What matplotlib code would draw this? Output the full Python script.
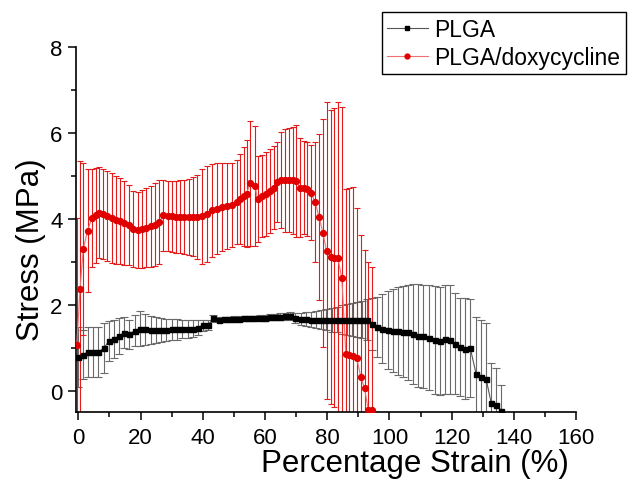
import numpy as np
import matplotlib
matplotlib.use('Agg')
import matplotlib.pyplot as plt
from matplotlib.lines import Line2D
from matplotlib.ticker import MultipleLocator

plt.rcParams['font.family'] = ['Liberation Sans', 'DejaVu Sans']

# PLGA (black squares)
plga_strain = [0.0, 1.4, 3.0, 4.7, 6.4, 8.2, 9.8, 11.5, 13.1, 14.7, 16.4, 18.1, 19.8,
               21.5, 23.2, 24.9, 26.6, 28.3, 30.0, 31.7, 33.4, 35.1, 36.8, 38.4, 40.1,
               41.8, 43.4, 45.1, 46.7, 48.4, 50.0, 51.7, 53.3, 55.0, 56.6, 58.3, 59.9,
               61.6, 63.2, 64.9, 66.5, 68.2, 69.8, 71.5, 73.1, 74.8, 76.4, 78.1, 79.7,
               81.4, 83.0, 84.7, 86.3, 88.0, 89.6, 91.3, 92.9, 94.3, 95.9, 97.5, 99.4,
               101.1, 102.8, 104.5, 106.1, 107.7, 109.3, 110.9, 112.8, 114.5, 116.2,
               117.9, 119.5, 121.1, 122.7, 124.4, 126.0, 127.9, 129.5, 131.1, 132.7,
               134.4, 136.0]
plga_stress = [0.78, 0.84, 0.90, 0.90, 0.91, 0.99, 1.16, 1.21, 1.28, 1.35, 1.32, 1.40, 1.45,
               1.43, 1.41, 1.42, 1.42, 1.42, 1.43, 1.43, 1.44, 1.44, 1.45, 1.47, 1.53,
               1.53, 1.69, 1.66, 1.67, 1.67, 1.68, 1.68, 1.69, 1.69, 1.69, 1.70, 1.70,
               1.71, 1.72, 1.73, 1.74, 1.74, 1.69, 1.68, 1.67, 1.66, 1.66, 1.66, 1.66,
               1.66, 1.66, 1.66, 1.66, 1.66, 1.66, 1.66, 1.66, 1.55, 1.49, 1.45, 1.42,
               1.40, 1.39, 1.38, 1.36, 1.32, 1.28, 1.27, 1.24, 1.18, 1.16,
               1.20, 1.19, 1.10, 1.03, 0.98, 0.99, 0.39, 0.33, 0.27, -0.27,
               -0.32, -0.46]
plga_err = [0.70, 0.57, 0.58, 0.58, 0.58, 0.58, 0.47, 0.45, 0.41, 0.36, 0.34, 0.36, 0.40,
            0.37, 0.33, 0.30, 0.28, 0.26, 0.25, 0.24, 0.22, 0.21, 0.19, 0.17, 0.13,
            0.11, 0.08, 0.06, 0.06, 0.06, 0.06, 0.06, 0.06, 0.06, 0.06, 0.06, 0.07,
            0.07, 0.08, 0.08, 0.08, 0.09, 0.12, 0.14, 0.16, 0.18, 0.20, 0.22, 0.25,
            0.28, 0.30, 0.33, 0.36, 0.38, 0.41, 0.44, 0.47, 0.60, 0.70, 0.80, 0.90,
            0.97, 1.02, 1.06, 1.10, 1.16, 1.20, 1.20, 1.23, 1.26, 1.26,
            1.27, 1.27, 1.17, 1.14, 1.17, 1.14, 1.32, 1.32, 1.30, 0.91,
            0.85, 0.60]

# PLGA/doxycycline (red circles)
dox_strain = [-0.5, 0.55, 1.6, 3.0, 4.3, 5.6, 6.8, 8.0, 9.3, 10.7, 12.1, 13.4, 14.8, 16.3,
              17.7, 19.1, 20.5, 21.8, 23.2, 24.6, 26.0, 27.3, 28.7, 30.0, 31.4, 32.8,
              34.1, 35.5, 36.9, 38.2, 39.6, 41.3, 42.9, 44.5, 46.1, 47.7, 49.3, 50.9,
              52.0, 53.3, 54.1, 55.2, 56.8, 57.6, 59.0, 60.4, 61.7, 62.8, 64.0, 65.2,
              66.5, 67.8, 68.9, 70.0, 71.3, 72.6, 73.6, 74.8, 76.1, 77.4, 78.6, 79.8,
              81.1, 82.2, 83.4, 84.7, 86.0, 87.1, 88.4, 89.5, 90.8, 92.0, 93.2, 94.3]
dox_stress = [1.07, 2.38, 3.31, 3.73, 4.02, 4.08, 4.14, 4.11, 4.07, 4.03, 3.98, 3.95, 3.91, 3.85,
              3.77, 3.75, 3.77, 3.80, 3.83, 3.87, 3.93, 4.08, 4.07, 4.06, 4.05, 4.05,
              4.05, 4.05, 4.05, 4.05, 4.06, 4.12, 4.20, 4.24, 4.28, 4.30, 4.33, 4.39,
              4.47, 4.53, 4.59, 4.83, 4.76, 4.47, 4.53, 4.58, 4.65, 4.73, 4.86, 4.90,
              4.90, 4.90, 4.90, 4.89, 4.73, 4.73, 4.70, 4.61, 4.39, 4.04, 3.68, 3.26,
              3.12, 3.10, 3.09, 2.63, 0.85, 0.84, 0.82, 0.76, 0.33, 0.06, -0.44, -0.44]
dox_err = [2.95, 2.97, 2.00, 1.42, 1.13, 1.10, 1.06, 1.05, 1.05, 1.05, 1.02, 1.00, 0.98, 0.93,
           0.89, 0.88, 0.90, 0.92, 0.94, 0.96, 0.97, 0.82, 0.82, 0.83, 0.84, 0.85,
           0.86, 0.88, 0.92, 0.98, 1.10, 1.12, 1.08, 1.05, 1.02, 1.00, 0.98, 0.97,
           1.05, 1.15, 1.25, 1.45, 1.40, 1.00, 0.95, 0.97, 0.98, 0.97, 0.93, 1.12,
           1.20, 1.21, 1.25, 1.30, 1.15, 1.09, 1.09, 1.11, 1.40, 1.93, 2.65, 3.45,
           3.42, 3.48, 3.64, 3.97, 3.85, 3.88, 3.92, 3.50, 3.29, 3.21, 3.43, 3.33]

fig = plt.figure(figsize=(6.38, 4.85), dpi=100)
ax = fig.add_axes([0.1187, 0.1485, 0.7842, 0.7526])

ax.errorbar(plga_strain, plga_stress, yerr=plga_err, fmt='none', ecolor='#6a6a6a',
            elinewidth=0.8, capsize=3, capthick=0.8, zorder=2)
ax.plot(plga_strain, plga_stress, '-', color='#555555', lw=0.8, zorder=3)
ax.plot(plga_strain, plga_stress, 's', color='black', ms=3.6, mec='black', zorder=4)

ax.errorbar(dox_strain, dox_stress, yerr=dox_err, fmt='none', ecolor='#e41b1b',
            elinewidth=0.8, capsize=2.5, capthick=0.8, zorder=2)
ax.plot(dox_strain, dox_stress, '-', color='#f07070', lw=0.8, zorder=3)
ax.plot(dox_strain, dox_stress, 'o', color='#e00000', ms=4.2, mec='#e00000', zorder=4)

ax.set_xlim(-0.84, 160)
ax.set_ylim(-0.49, 8)
ax.xaxis.set_major_locator(MultipleLocator(20))
ax.xaxis.set_minor_locator(MultipleLocator(10))
ax.yaxis.set_major_locator(MultipleLocator(2))
ax.yaxis.set_minor_locator(MultipleLocator(1))
ax.tick_params(which='major', direction='out', length=6, width=1.1, labelsize=16)
ax.tick_params(axis='x', which='major', pad=5)
ax.tick_params(which='minor', direction='out', length=3.5, width=1.1)
for side in ['top', 'right']:
    ax.spines[side].set_visible(False)
for side in ['left', 'bottom']:
    ax.spines[side].set_linewidth(1.2)

ax.set_xlabel('Percentage Strain (%)', fontsize=22.5)
ax.set_ylabel('Stress (MPa)', fontsize=22.5)
ax.xaxis.set_label_coords(0.678, -0.098)
ax.yaxis.set_label_coords(-0.06, 0.447)

handles = [Line2D([], [], color='#555555', lw=0.8, marker='s', ms=3, mfc='black', mec='black'),
           Line2D([], [], color='#f07070', lw=0.8, marker='o', ms=3.5, mfc='#e00000', mec='#e00000')]
leg = fig.legend(handles, ['PLGA', 'PLGA/doxycycline'], loc='upper left',
                 bbox_to_anchor=(381.7 / 638, 1 - 13.3 / 485), fontsize=16.5,
                 frameon=True, fancybox=False, edgecolor='black', framealpha=1,
                 handlelength=1.75, handletextpad=0.3, borderpad=0.25,
                 labelspacing=0.2, borderaxespad=0, numpoints=1)
leg.get_frame().set_linewidth(1.0)

fig.savefig('out.png', dpi=100)
